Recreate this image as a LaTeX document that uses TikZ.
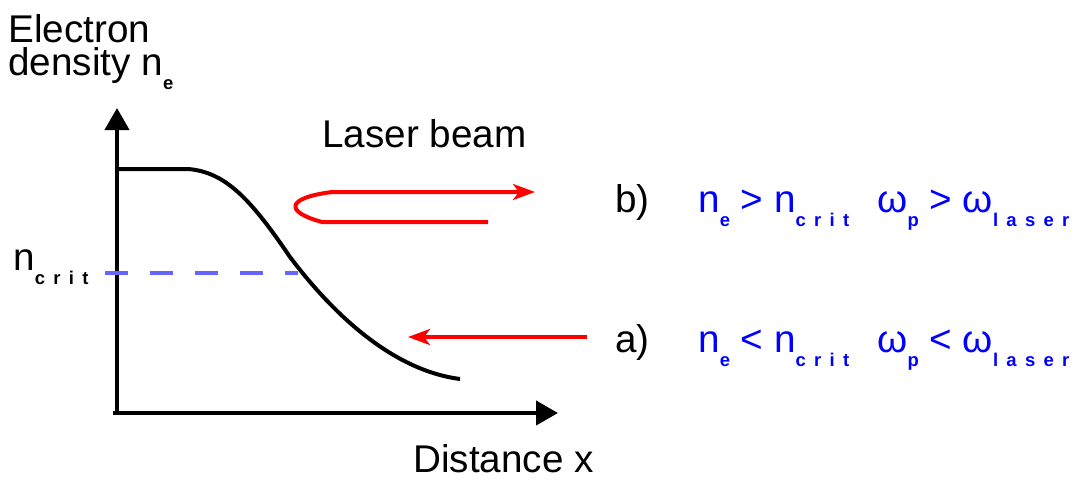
\documentclass[tikz,border=0pt]{standalone}
\usepackage{fontspec}
\setmainfont{Liberation Sans}
\newfontfamily\subfont[LetterSpace=45]{Liberation Sans}
\usetikzlibrary{arrows.meta}
\newcommand{\lsub}[1]{\raisebox{-8.5pt}{\subfont\fontsize{10.5}{10.5}\bfseries\selectfont #1}}
\begin{document}
\begin{tikzpicture}[x=.02cm,y=-.02cm,
                    axis/.style={line width=.08cm,-{Triangle[length=.44cm,width=.48cm]}},
                    beam/.style={red,line width=.08cm,-{Stealth[length=.44cm,width=.32cm,inset=.12cm]}},
                    txt/.style={anchor=base west,inner sep=0pt,font=\fontsize{22}{18.7}\selectfont},
                    every node/.style={inner sep=0pt}]
 \path[use as bounding box] (0,0) rectangle (1080,478);
 \coordinate (o) at (117,413); \coordinate (ytip) at (117,108); \coordinate (xtip) at (558,413);
 \coordinate (top) at (117,169); \coordinate (knee) at (188,169); \coordinate (mid) at (290,257);
 \coordinate (tail) at (460,379);
 \coordinate (cl) at (105,273); \coordinate (cr) at (298,273);
 \draw[axis] (o)--(ytip);
 \draw[axis] ([xshift=-2]o)--(xtip);
 \draw[line width=.08cm] (top)--(knee) .. controls (225,172) and (250,198) .. (mid)
   .. controls (330,310) and (390,370) .. (tail);
 \draw[color={rgb,255:red,102;green,102;blue,255},line width=.09cm,dash pattern=on .46cm off .44cm] (cl)--(cr);
 % labels
 \node[txt,align=left] (elabel) at (8,75) {Electron\\density n\lsub{e}};
 \node[txt] (crit) at (13,270) {n\lsub{crit}};
 \node[txt] (laser) at (322,147) {Laser beam};
 \node[txt] (dist) at (413,472) {Distance x};
 \node[txt] (caseb) at (615,212) {b)};
 \node[txt] (casea) at (615,352) {a)};
 \node[txt,blue] (formb) at (698,212) {n\lsub{e} > n\lsub{crit}\hspace{16pt}ω\lsub{p} > ω\lsub{laser}};
 \node[txt,blue] (forma) at (698,352) {n\lsub{e} < n\lsub{crit}\hspace{16pt}ω\lsub{p} < ω\lsub{laser}};
 % laser beams
 \coordinate (bstart) at (488,222); \coordinate (bturn) at (322,222);
 \coordinate (bback) at (332,192); \coordinate (bend) at (535,192);
 \coordinate (astart) at (587,337); \coordinate (aend) at (408,337);
 \draw[beam] (bstart)--(bturn) .. controls (285,212) and (285,198) .. (bback)--(bend);
 \draw[beam] (astart)--(aend);
\end{tikzpicture}
\end{document}
